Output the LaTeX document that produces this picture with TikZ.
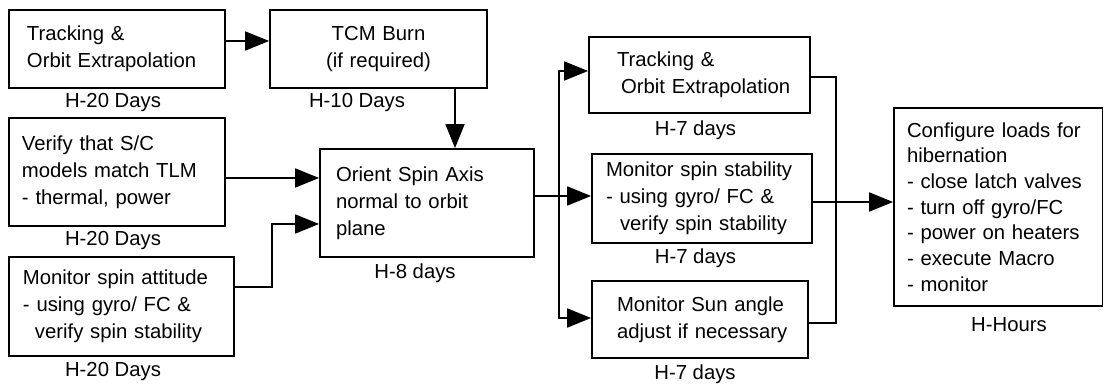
\documentclass[tikz,border=0pt]{standalone}
\usepackage{fontspec}
\setmainfont{Liberation Sans}
\usetikzlibrary{arrows.meta}
\newcommand{\diagfont}{\fontsize{11.55pt}{15.4pt}\selectfont}

\begin{document}
\begin{tikzpicture}[>={Triangle[length=0.48cm,width=0.38cm]},line width=1pt,
  box/.style={draw,align=left,inner ysep=0pt,font=\diagfont},
  lbl/.style={inner sep=0pt,font=\diagfont}]
\useasboundingbox (0,0) rectangle (22.08,7.72);
\node[box,minimum height=1.56cm,text width=3.6cm,inner xsep=0.36cm] (A) at (2.34,6.74) {Tracking \&\\Orbit Extrapolation};
\node[box,align=center,minimum height=1.56cm,text width=3.94cm,inner xsep=0.2cm] (B) at (7.57,6.74) {TCM Burn\\(if required)};
\node[box,minimum height=2.16cm,text width=3.8cm,inner xsep=0.26cm] (C) at (2.34,4.28) {Verify that S/C\\models match TLM\\- thermal, power};
\node[box,minimum height=1.98cm,text width=3.94cm,inner xsep=0.28cm] (D) at (2.43,1.59) {Monitor spin attitude\\- using gyro/ FC \&\\\hspace*{0.24cm}verify spin stability};
\node[box,minimum height=2.16cm,text width=3.64cm,inner xsep=0.32cm] (E) at (8.54,3.66) {Orient Spin Axis\\normal to orbit\\plane};
\node[box,minimum height=1.52cm,text width=3.9cm,inner xsep=0.26cm] (F) at (13.99,6.22) {\hspace*{0.3cm}Tracking \&\\\hspace*{0.38cm}Orbit Extrapolation};
\node[box,minimum height=1.78cm,text width=3.84cm,inner xsep=0.28cm] (G) at (14.04,3.75) {Monitor spin stability\\- using gyro/ FC \&\\\hspace*{0.28cm}verify spin stability};
\node[box,minimum height=1.54cm,text width=3.6cm,inner xsep=0.36cm] (H) at (14.0,1.33) {\hspace*{0.14cm}Monitor Sun angle\\\hspace*{0.14cm}adjust if necessary};
\node[box,minimum height=3.96cm,text width=3.65cm,inner xsep=0.26cm,font={\fontsize{11.55pt}{14.6pt}\selectfont}] (I) at (19.965,3.58) {Configure loads for\\hibernation\\- close latch valves\\- turn off gyro/FC\\- power on heaters\\- execute Macro\\- monitor};
\node[lbl] (tA) at (2.26,5.66) {H-20 Days};
\node[lbl] (tB) at (7.14,5.66) {H-10 Days};
\node[lbl] (tC) at (2.26,2.90) {H-20 Days};
\node[lbl] (tD) at (2.26,0.28) {H-20 Days};
\node[lbl] (tE) at (8.30,2.26) {H-8 days};
\node[lbl] (tF) at (13.91,5.12) {H-7 days};
\node[lbl] (tG) at (13.91,2.56) {H-7 days};
\node[lbl] (tH) at (13.90,0.24) {H-7 days};
\node[lbl] (tI) at (20.18,1.22) {H-Hours};
\coordinate (ab) at (0,6.9);
\coordinate (be) at (9.1,0);
\coordinate (ce) at (0,4.16);
\coordinate (d1) at (0,1.98);
\coordinate (dm) at (5.44,3.24);
\coordinate (fork) at (11.18,3.8);
\coordinate (f1) at (0,6.3);
\coordinate (h1) at (0,1.36);
\coordinate (join) at (16.72,3.68);
\coordinate (f2) at (0,6.18);
\coordinate (h2) at (0,1.26);
\draw[->] (A.east |- ab) -- (B.west |- ab);
\draw[->] (B.south -| be) -- (E.north -| be);
\draw[->] (C.east |- ce) -- (E.west |- ce);
\draw[->] (D.east |- d1) -| (dm) -- (E.west |- dm);
\draw (E.east |- fork) -- (fork);
\draw[->] (fork) |- (F.west |- f1);
\draw[->] (fork) -- (G.west |- fork);
\draw[->] (fork) |- (H.west |- h1);
\draw (F.east |- f2) -| (join);
\draw (H.east |- h2) -| (join);
\draw[->] (G.east |- join) -- (I.west |- join);
\end{tikzpicture}
\end{document}
